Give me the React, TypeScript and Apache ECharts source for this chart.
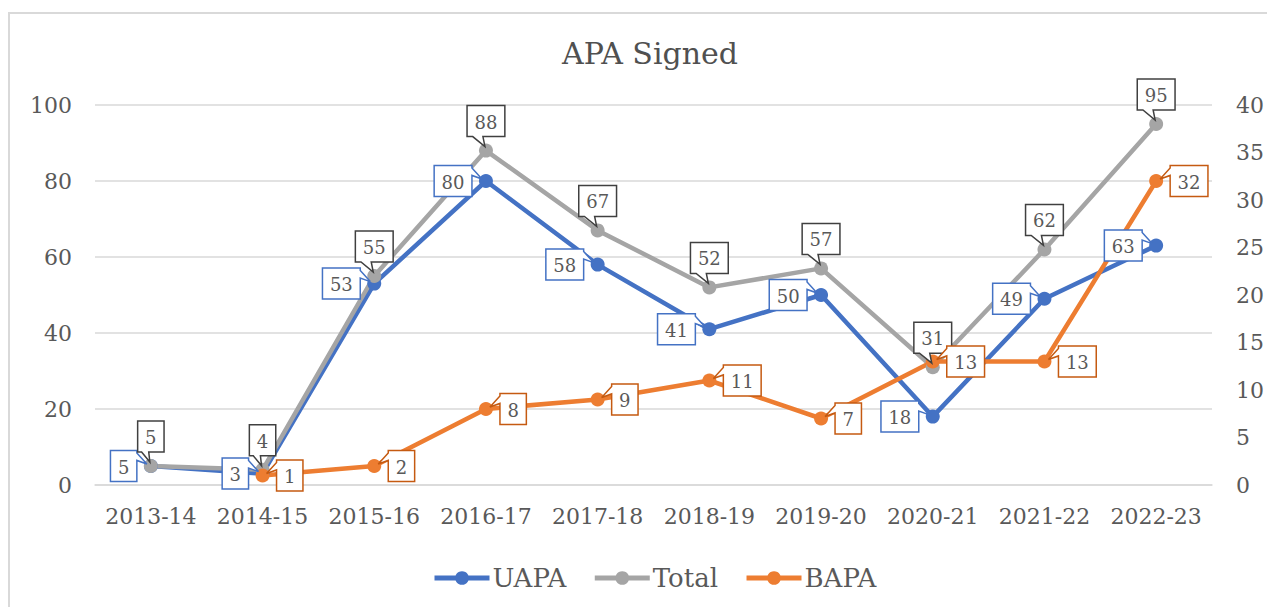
import React, { useEffect, useRef } from "react";
import * as echarts from "echarts";

const categories = ["2013-14", "2014-15", "2015-16", "2016-17", "2017-18", "2018-19", "2019-20", "2020-21", "2021-22", "2022-23"];
const uapa = [5, 3, 53, 80, 58, 41, 50, 18, 49, 63];
const total = [5, 4, 55, 88, 67, 52, 57, 31, 62, 95];
const bapa: (number | null)[] = [null, 1, 2, 8, 9, 11, 7, 13, 13, 32];
const leftTicks = { min: 0, max: 100, interval: 20 };
const rightTicks = { min: 0, max: 40, interval: 5 };

const FONT = '"DejaVu Serif", serif';
const TEXT = "#595959";
const BLUE = "#4472C4";
const GREY = "#A5A5A5";
const ORANGE = "#ED7D31";

function callout(dir: "top" | "left" | "right", stroke: string) {
  return (params: any, api: any) => {
    const v = api.value(1);
    const p = api.coord([api.value(0), v]);
    const txt = String(v);
    const w = 15 + txt.length * 11.4;
    const h = 31;
    const gap = 14;
    let cx = p[0];
    let cy = p[1];
    if (dir === "top") cy = p[1] - gap - h / 2;
    else if (dir === "left") cx = p[0] - gap - w / 2;
    else cx = p[0] + gap + w / 2;
    const L = cx - w / 2, R = cx + w / 2, T = cy - h / 2, B = cy + h / 2;
    let pts: number[][];
    if (dir === "top") {
      pts = [[L, T], [R, T], [R, B], [L + 0.42 * w, B], [p[0] - 1, p[1] - 4], [L + 0.15 * w, B], [L, B]];
    } else if (dir === "left") {
      pts = [[L, T], [R, T], [R, T + 0.08 * h], [p[0] - 4, p[1] - 2], [R, T + 0.32 * h], [R, B], [L, B]];
    } else {
      pts = [[L, T], [R, T], [R, B], [L, B], [L, T + 0.32 * h], [p[0] + 4, p[1] - 2], [L, T + 0.08 * h]];
    }
    return {
      type: "group",
      children: [
        { type: "polygon", shape: { points: pts }, style: { fill: "#ffffff", stroke, lineWidth: 1.5 } },
        {
          type: "text",
          style: { text: txt, x: cx, y: cy + 1, align: "center", verticalAlign: "middle", font: `18px ${FONT}`, fill: TEXT },
        },
      ],
    };
  };
}

export default function App() {
  const ref = useRef<HTMLDivElement>(null);
  useEffect(() => {
    if (!ref.current) return;
    const chart = echarts.init(ref.current, undefined, { renderer: "svg" });
    const toPairs = (arr: (number | null)[]) =>
      arr.map((v, i) => (v == null ? null : [i, v])).filter((d) => d != null);
    const lineCommon = {
      type: "line",
      symbol: "circle",
      symbolSize: 14,
    };
    chart.setOption({
      animation: false,
      backgroundColor: "#ffffff",
      textStyle: { fontFamily: FONT },
      title: {
        text: "APA Signed",
        left: 645,
        top: 33,
        textAlign: "center",
        textStyle: { fontFamily: FONT, fontSize: 30, fontWeight: "normal", color: "#505050" },
      },
      graphic: [
        {
          type: "rect",
          silent: true,
          z: -10,
          shape: { x: 9, y: 13, width: 1400, height: 800 },
          style: { fill: "none", stroke: "#d9d9d9", lineWidth: 2 },
        },
      ],
      legend: {
        data: ["UAPA", "Total", "BAPA"],
        top: 560,
        left: 427,
        itemWidth: 55,
        itemHeight: 17,
        itemGap: 26,
        lineStyle: { width: 5 },
        textStyle: { fontFamily: FONT, fontSize: 26, color: TEXT, padding: [0, 0, 0, -2] },
      },
      grid: { left: 95, right: 55, top: 105, bottom: 122, containLabel: false },
      xAxis: {
        type: "category",
        data: categories,
        axisTick: { show: false },
        axisLine: { show: true, lineStyle: { color: "#d9d9d9", width: 1.5 } },
        axisLabel: { fontFamily: FONT, fontSize: 22, color: TEXT, margin: 20, interval: 0 },
      },
      yAxis: [
        {
          type: "value",
          ...leftTicks,
          axisLabel: { fontFamily: FONT, fontSize: 22, color: TEXT, margin: 23 },
          axisLine: { show: false },
          axisTick: { show: false },
          splitLine: { lineStyle: { color: "#d9d9d9", width: 1.5 } },
        },
        {
          type: "value",
          ...rightTicks,
          axisLabel: { fontFamily: FONT, fontSize: 22, color: TEXT, margin: 24 },
          axisLine: { show: false },
          axisTick: { show: false },
          splitLine: { show: false },
        },
      ],
      series: [
        { ...lineCommon, name: "UAPA", data: uapa, yAxisIndex: 0, color: BLUE, itemStyle: { color: BLUE }, lineStyle: { width: 4.5, color: BLUE } },
        { ...lineCommon, name: "Total", data: total, yAxisIndex: 0, color: GREY, itemStyle: { color: GREY }, lineStyle: { width: 4.5, color: GREY } },
        { ...lineCommon, name: "BAPA", data: bapa, yAxisIndex: 1, color: ORANGE, itemStyle: { color: ORANGE }, lineStyle: { width: 4.5, color: ORANGE } },
        {
          type: "custom",
          name: "UAPA labels",
          yAxisIndex: 0,
          z: 10,
          silent: true,
          clip: false,
          encode: { x: 0, y: 1 },
          data: toPairs(uapa),
          renderItem: callout("left", BLUE),
        },
        {
          type: "custom",
          name: "Total labels",
          yAxisIndex: 0,
          z: 10,
          silent: true,
          clip: false,
          encode: { x: 0, y: 1 },
          data: toPairs(total),
          renderItem: callout("top", "#404040"),
        },
        {
          type: "custom",
          name: "BAPA labels",
          yAxisIndex: 1,
          z: 10,
          silent: true,
          clip: false,
          encode: { x: 0, y: 1 },
          data: toPairs(bapa),
          renderItem: callout("right", "#C55A11"),
        },
      ],
    });
    return () => chart.dispose();
  }, []);
  return (
    <div style={{ position: "fixed", left: 0, top: 0, width: 1267, height: 607, overflow: "hidden", background: "#fff" }}>
      <div ref={ref} style={{ width: 1267, height: 607 }} />
    </div>
  );
}
